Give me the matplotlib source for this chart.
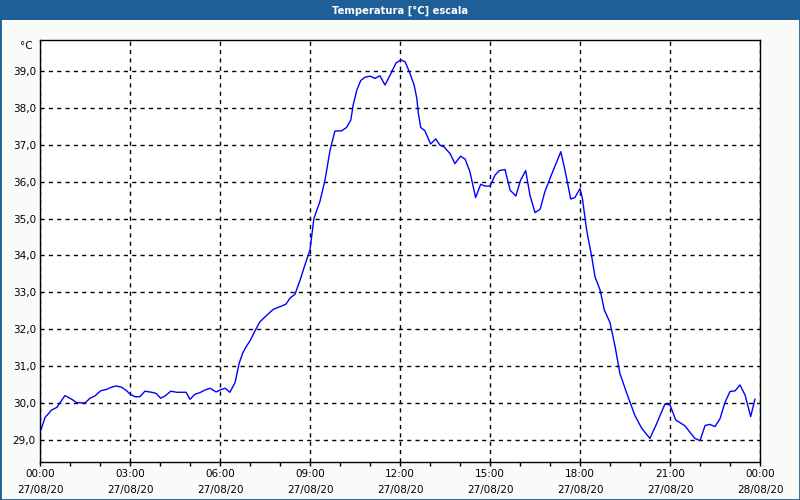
import matplotlib
matplotlib.use("Agg")
import matplotlib.pyplot as plt
from matplotlib.patches import Rectangle

# hours since 27/08/20 00:00 and temperature readings (°C)
hours = [0.03, 0.17, 0.39, 0.56, 0.83, 1.06, 1.22, 1.50, 1.67, 1.83,
         2.02, 2.22, 2.39, 2.53, 2.72, 2.89, 3.00, 3.17, 3.33, 3.50,
         3.72, 3.87, 4.02, 4.17, 4.36, 4.56, 4.87, 5.00, 5.17, 5.33,
         5.50, 5.67, 5.87, 6.06, 6.17, 6.33, 6.50, 6.64, 6.76, 6.89,
         7.02, 7.17, 7.33, 7.56, 7.78, 8.00, 8.20, 8.33, 8.50, 8.67,
         8.83, 9.00, 9.13, 9.33, 9.50, 9.67, 9.83, 10.06, 10.22, 10.36,
         10.44, 10.56, 10.69, 10.83, 11.00, 11.17, 11.33, 11.50, 11.67, 11.87,
         12.03, 12.17, 12.31, 12.47, 12.56, 12.61, 12.69, 12.83, 13.02, 13.19,
         13.33, 13.47, 13.67, 13.83, 14.02, 14.17, 14.33, 14.52, 14.69, 14.83,
         15.00, 15.17, 15.31, 15.50, 15.67, 15.86, 16.02, 16.19, 16.33, 16.50,
         16.67, 16.83, 17.02, 17.20, 17.36, 17.50, 17.69, 17.83, 18.00, 18.08,
         18.22, 18.39, 18.50, 18.67, 18.81, 19.00, 19.17, 19.33, 19.56, 19.83,
         20.06, 20.33, 20.56, 20.83, 21.00, 21.19, 21.50, 21.67, 21.83, 22.00,
         22.17, 22.33, 22.50, 22.67, 22.83, 23.00, 23.17, 23.33, 23.50, 23.69,
         23.83]
temps = [29.27, 29.61, 29.81, 29.88, 30.20, 30.10, 30.01, 30.00, 30.13, 30.19,
         30.33, 30.37, 30.43, 30.46, 30.43, 30.33, 30.24, 30.17, 30.17, 30.32,
         30.29, 30.26, 30.13, 30.19, 30.32, 30.29, 30.29, 30.10, 30.24, 30.28,
         30.35, 30.40, 30.30, 30.37, 30.40, 30.29, 30.55, 31.08, 31.36, 31.55,
         31.71, 31.96, 32.20, 32.38, 32.54, 32.61, 32.68, 32.84, 32.95, 33.33,
         33.74, 34.15, 35.00, 35.46, 36.04, 36.86, 37.37, 37.38, 37.47, 37.67,
         38.08, 38.48, 38.74, 38.83, 38.86, 38.80, 38.87, 38.62, 38.89, 39.22,
         39.30, 39.25, 38.98, 38.62, 38.26, 37.86, 37.47, 37.38, 37.02, 37.16,
         36.99, 36.94, 36.76, 36.49, 36.69, 36.61, 36.27, 35.57, 35.93, 35.88,
         35.88, 36.18, 36.30, 36.33, 35.77, 35.61, 36.04, 36.30, 35.64, 35.16,
         35.25, 35.73, 36.13, 36.49, 36.81, 36.31, 35.53, 35.57, 35.81, 35.55,
         34.69, 33.97, 33.42, 33.06, 32.52, 32.18, 31.53, 30.80, 30.26, 29.66,
         29.31, 29.04, 29.45, 29.97, 29.95, 29.54, 29.38, 29.20, 29.04, 28.98,
         29.39, 29.42, 29.36, 29.58, 30.01, 30.31, 30.33, 30.49, 30.22, 29.63,
         30.10]

tick_hours = [0, 3, 6, 9, 12, 15, 18, 21, 24]
tick_labels = ["00:00\n27/08/20", "03:00\n27/08/20", "06:00\n27/08/20",
               "09:00\n27/08/20", "12:00\n27/08/20", "15:00\n27/08/20",
               "18:00\n27/08/20", "21:00\n27/08/20", "00:00\n28/08/20"]
y_ticks = [29, 30, 31, 32, 33, 34, 35, 36, 37, 38, 39]

fig = plt.figure(figsize=(8, 5), dpi=100, facecolor="#f9fbf9")

# title bar and frame
fig.patches.append(Rectangle((0, 0.96), 1, 0.04, transform=fig.transFigure,
                             facecolor="#1e5f98", edgecolor="none", zorder=0))
fig.patches.append(Rectangle((0, 0), 1, 1, transform=fig.transFigure,
                             facecolor="none", edgecolor="#1e5f98", linewidth=2, zorder=5))
fig.text(0.5, 0.979, "Temperatura [°C] escala", color="white", fontsize=7.2,
         fontweight="bold", ha="center", va="center")

ax = fig.add_axes([0.05, 0.076, 0.9, 0.844])
ax.set_facecolor("white")
ax.plot(hours, temps, color="#0000ff", linewidth=1)

ax.set_xlim(0, 24)
ax.set_ylim(28.4, 39.84)
ax.set_xticks(tick_hours)
ax.set_xticklabels(tick_labels, fontsize=7.5, linespacing=1.75)
ax.set_xticks(range(0, 25), minor=True)
ax.set_yticks(y_ticks)
ax.set_yticklabels([f"{v:.1f}".replace(".", ",") for v in y_ticks], fontsize=7.5)
ax.tick_params(axis="x", which="both", direction="out", length=3, width=1, pad=2)
ax.tick_params(axis="y", length=0, pad=3)

ax.grid(True, which="major", color="black", linestyle=(0, (3, 3)), linewidth=1)
for s in ax.spines.values():
    s.set_color("black")
    s.set_linewidth(1)

fig.text(0.041, 0.908, "°C", fontsize=7.5, ha="right", va="center")

fig.savefig("out.png", dpi=100, facecolor=fig.get_facecolor())
